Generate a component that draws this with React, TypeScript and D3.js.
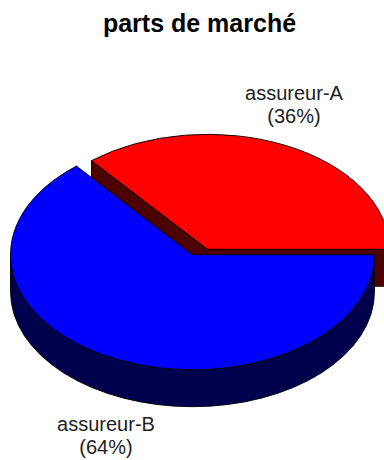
import React from "react";
import * as d3 from "d3";

// Market share data
const insurers = ["assureur-A", "assureur-B"];
const shares = [36, 64];
const topColors = ["#ff0000", "#0000ff"];
const sideColors = ["#4d0000", "#00004d"];

const W = 384;
const H = 460;

// 3D pie geometry
const CX = 200;
const CY = 252;
const RX = 182;
const RY = 115;
const DEPTH = 37;
const EXPLODE_X = 7.5;
const EXPLODE_Y = 2.7;

type Slice = {
  i: number;
  t0: number;
  t1: number;
  mid: number;
  cx: number;
  cy: number;
};

function pt(s: Slice, t: number, dy = 0): [number, number] {
  return [s.cx + RX * Math.cos(t), s.cy - RY * Math.sin(t) + dy];
}

function fmt(p: [number, number]) {
  return `${p[0].toFixed(2)},${p[1].toFixed(2)}`;
}

export default function App() {
  // d3.pie angles run clockwise from 12 o'clock; reversed range gives
  // counter-clockwise slices starting at 3 o'clock.
  const pie = d3
    .pie<number>()
    .sort(null)
    .startAngle(Math.PI / 2)
    .endAngle(Math.PI / 2 - 2 * Math.PI);
  const arcs = pie(shares);

  const slices: Slice[] = arcs.map((a, i) => {
    const t0 = Math.PI / 2 - a.startAngle;
    const t1 = Math.PI / 2 - a.endAngle;
    const mid = (t0 + t1) / 2;
    return {
      i,
      t0,
      t1,
      mid,
      cx: CX + EXPLODE_X * Math.sign(Math.cos(mid)) * Math.min(1, Math.abs(Math.cos(mid)) / 0.426),
      cy: CY - EXPLODE_Y * Math.sign(Math.sin(mid)) * Math.min(1, Math.abs(Math.sin(mid)) / 0.905),
    };
  });

  // paint back slices first
  const order = [...slices].sort((a, b) => Math.sin(b.mid) - Math.sin(a.mid));

  const stroke = "#000";
  const sw = 0.9;

  const pieces: React.ReactNode[] = [];
  order.forEach((s) => {
    const c: [number, number] = [s.cx, s.cy];
    const cd: [number, number] = [s.cx, s.cy + DEPTH];
    const side = sideColors[s.i];
    // radial face along start edge
    if (Math.cos(s.t0) > 0) {
      const p = pt(s, s.t0);
      const pd = pt(s, s.t0, DEPTH);
      pieces.push(
        <path
          key={`r0-${s.i}`}
          d={`M${fmt(c)}L${fmt(p)}L${fmt(pd)}L${fmt(cd)}Z`}
          fill={side}
          stroke={stroke}
          strokeWidth={sw}
          strokeLinejoin="round"
        />
      );
    }
    // radial face along end edge
    if (Math.cos(s.t1) < 0) {
      const p = pt(s, s.t1);
      const pd = pt(s, s.t1, DEPTH);
      pieces.push(
        <path
          key={`r1-${s.i}`}
          d={`M${fmt(c)}L${fmt(p)}L${fmt(pd)}L${fmt(cd)}Z`}
          fill={side}
          stroke={stroke}
          strokeWidth={sw}
          strokeLinejoin="round"
        />
      );
    }
    // outer curved wall, front half only
    const a = Math.max(s.t0, Math.PI);
    const b = Math.min(s.t1, 2 * Math.PI);
    if (b > a) {
      const pa = pt(s, a);
      const pb = pt(s, b);
      const pad = pt(s, a, DEPTH);
      const pbd = pt(s, b, DEPTH);
      pieces.push(
        <path
          key={`o-${s.i}`}
          d={`M${fmt(pa)}A${RX},${RY} 0 0 0 ${fmt(pb)}L${fmt(pbd)}A${RX},${RY} 0 0 1 ${fmt(pad)}Z`}
          fill={side}
          stroke={stroke}
          strokeWidth={sw}
          strokeLinejoin="round"
        />
      );
    }
    // top face
    const p0 = pt(s, s.t0);
    const p1 = pt(s, s.t1);
    const large = s.t1 - s.t0 > Math.PI ? 1 : 0;
    pieces.push(
      <path
        key={`t-${s.i}`}
        d={`M${fmt(c)}L${fmt(p0)}A${RX},${RY} 0 ${large} 0 ${fmt(p1)}Z`}
        fill={topColors[s.i]}
        stroke={stroke}
        strokeWidth={sw}
        strokeLinejoin="round"
      />
    );
  });

  const font = "'Liberation Sans', Arial, Helvetica, sans-serif";
  const labelPos: [number, number][] = [
    [294, 100],
    [106, 431],
  ];

  return (
    <svg
      width={W}
      height={H}
      style={{ position: "absolute", left: 0, top: 0, background: "#fff" }}
    >
      <rect width={W} height={H} fill="#fff" />
      <text
        x={199.5}
        y={32}
        textAnchor="middle"
        fontFamily={font}
        fontWeight="bold"
        fontSize={25}
        fill="#000"
      >
        parts de marché
      </text>
      {pieces}
      {slices.map((s) => (
        <text
          key={`lab-${s.i}`}
          x={labelPos[s.i][0]}
          y={labelPos[s.i][1]}
          textAnchor="middle"
          fontFamily={font}
          fontSize={20}
          fill="#222"
        >
          <tspan x={labelPos[s.i][0]}>{insurers[s.i]}</tspan>
          <tspan x={labelPos[s.i][0]} dy={23}>
            ({d3.format(".0f")((shares[s.i] / d3.sum(shares)) * 100)}%)
          </tspan>
        </text>
      ))}
    </svg>
  );
}
